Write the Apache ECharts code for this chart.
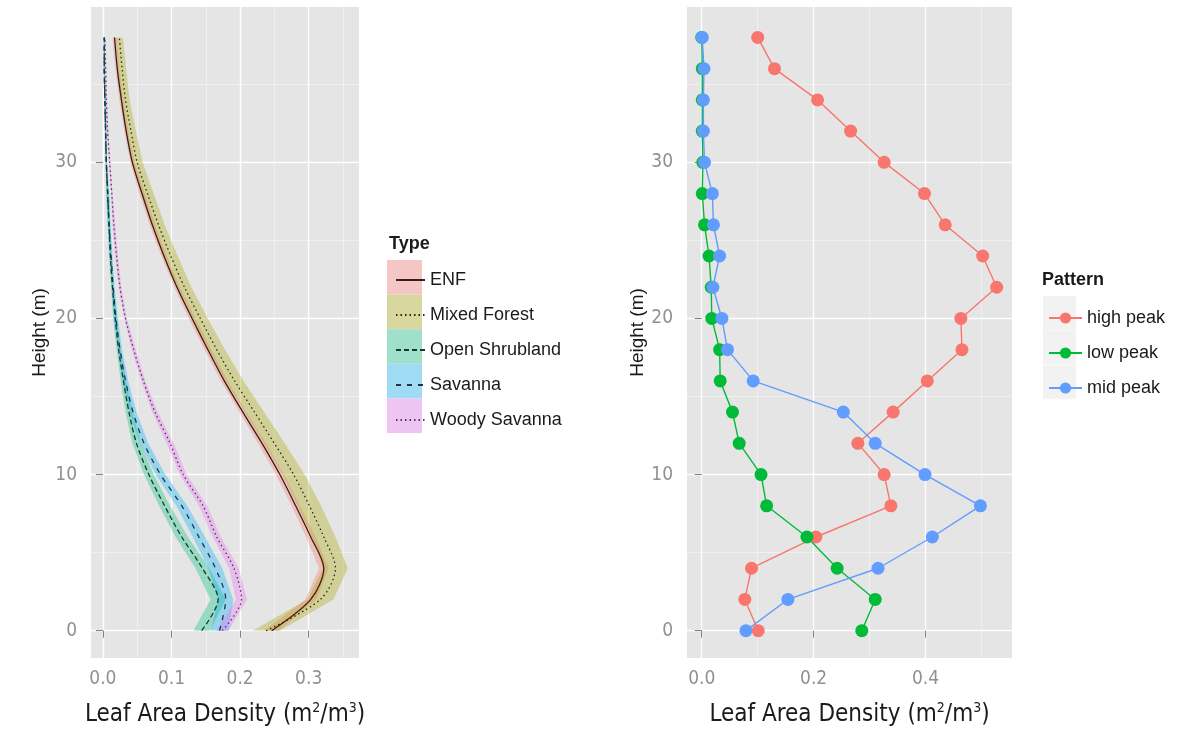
<!DOCTYPE html>
<html>
<head>
<meta charset="utf-8">
<script src="https://cdn.jsdelivr.net/npm/echarts@6/dist/echarts.min.js"></script>
<style>
  html, body { margin: 0; padding: 0; background: #fff; }
  #chart { width: 1178px; height: 734px; }
</style>
</head>
<body>
<div id="chart"></div>
<script>
// heights (m) shared by both panels
const heights = [0, 2, 4, 6, 8, 10, 12, 14, 16, 18, 20, 22, 24, 26, 28, 30, 32, 34, 36, 38];

// left panel: smoothed leaf area density per land cover type, with ribbon half width
const types = ["ENF", "Mixed Forest", "Open Shrubland", "Savanna", "Woody Savanna"];
const enf = [0.246, 0.303, 0.322, 0.303, 0.281, 0.258, 0.232, 0.204, 0.177, 0.153, 0.130, 0.108, 0.089, 0.072, 0.057, 0.043, 0.034, 0.027, 0.021, 0.017];
const mixedForest = [0.238, 0.317, 0.339, 0.322, 0.301, 0.278, 0.250, 0.221, 0.192, 0.166, 0.142, 0.119, 0.099, 0.081, 0.065, 0.050, 0.041, 0.033, 0.028, 0.024];
const openShrubland = [0.144, 0.168, 0.145, 0.115, 0.090, 0.067, 0.049, 0.038, 0.030, 0.023, 0.018, 0.014, 0.011, 0.009, 0.007, 0.005, 0.004, 0.003, 0.002, 0.002];
const savanna = [0.170, 0.179, 0.164, 0.140, 0.115, 0.084, 0.060, 0.044, 0.033, 0.025, 0.019, 0.015, 0.012, 0.009, 0.007, 0.005, 0.004, 0.003, 0.002, 0.002];
const woodySavanna = [0.174, 0.202, 0.191, 0.166, 0.146, 0.117, 0.098, 0.076, 0.059, 0.045, 0.033, 0.025, 0.020, 0.016, 0.013, 0.010, 0.007, 0.005, 0.004, 0.003];
const enfSe = [0.010, 0.008, 0.007, 0.007, 0.006, 0.006, 0.006, 0.005, 0.005, 0.005, 0.005, 0.004, 0.004, 0.004, 0.004, 0.003, 0.003, 0.003, 0.003, 0.003];
const mixedForestSe = [0.020, 0.019, 0.018, 0.017, 0.017, 0.016, 0.015, 0.014, 0.013, 0.012, 0.011, 0.010, 0.010, 0.009, 0.009, 0.008, 0.007, 0.006, 0.006, 0.005];
const openShrublandSe = [0.012, 0.011, 0.010, 0.009, 0.008, 0.007, 0.006, 0.005, 0.004, 0.003, 0.003, 0.002, 0.002, 0.002, 0.002, 0.001, 0.001, 0.001, 0.001, 0.001];
const savannaSe = [0.013, 0.011, 0.010, 0.009, 0.008, 0.007, 0.006, 0.005, 0.004, 0.003, 0.003, 0.002, 0.002, 0.002, 0.002, 0.001, 0.001, 0.001, 0.001, 0.001];
const woodySavannaSe = [0.009, 0.008, 0.007, 0.006, 0.006, 0.005, 0.005, 0.004, 0.003, 0.003, 0.002, 0.002, 0.002, 0.002, 0.001, 0.001, 0.001, 0.001, 0.001, 0.001];

// right panel: profile patterns
const patterns = ["high peak", "low peak", "mid peak"];
const highPeak = [0.101, 0.077, 0.089, 0.204, 0.338, 0.326, 0.279, 0.342, 0.403, 0.465, 0.463, 0.527, 0.502, 0.435, 0.398, 0.326, 0.266, 0.207, 0.130, 0.100];
const lowPeak = [0.286, 0.310, 0.242, 0.188, 0.116, 0.106, 0.067, 0.055, 0.033, 0.032, 0.018, 0.017, 0.013, 0.005, 0.001, 0.002, 0.001, 0.001, 0.001, 0.000];
const midPeak = [0.079, 0.154, 0.315, 0.412, 0.498, 0.399, 0.310, 0.253, 0.092, 0.046, 0.036, 0.020, 0.032, 0.021, 0.019, 0.005, 0.003, 0.003, 0.004, 0.001];

// axis ticks
const yTicks = [0, 10, 20, 30];
const yMinor = [5, 15, 25, 35];
const leftXTicks = [0, 0.1, 0.2, 0.3];
const leftXMinor = [0.05, 0.15, 0.25, 0.35];
const rightXTicks = [0, 0.2, 0.4];
const rightXMinor = [0.1, 0.3, 0.5];

const narrow = '"Liberation Sans Narrow", "DejaVu Sans Condensed", sans-serif';
const sans = '"Liberation Sans", Arial, sans-serif';
const fills = ["#F8766D", "#A3A500", "#00BF7D", "#00B0F6", "#E76BF3"];
const lineColors = ["#3c1c16", "#2c2a0a", "#163a2c", "#1c3448", "#58305e"];
const dashes = ["solid", [1.5, 3], [5, 3], [5, 6], [1.5, 3]];
const patternColors = ["#F8766D", "#00BA38", "#619CFF"];

function rgba(hex, a) {
  const n = parseInt(hex.slice(1), 16);
  return `rgba(${n >> 16},${(n >> 8) & 255},${n & 255},${a})`;
}

const pairs = (vals) => vals.map((v, i) => [v, heights[i]]);

function majorX(idx, ticks, min, max) {
  return {
    type: "value", gridIndex: idx, min: min, max: max, position: "bottom",
    name: "Leaf Area Density (m{sup|2}/m{sup|3})",
    nameLocation: "middle", nameGap: 43,
    nameTextStyle: {
      fontFamily: narrow, fontSize: 24, color: "#1a1a1a",
      rich: { sup: { fontFamily: narrow, fontSize: 14, color: "#1a1a1a", padding: [0, 0, 14, 0] } },
    },
    axisLine: { show: false },
    axisTick: { show: true, length: 7, customValues: ticks, lineStyle: { color: "#7f7f7f", width: 1 } },
    axisLabel: { customValues: ticks, color: "#919191", fontFamily: narrow, fontSize: 19, margin: 12,
      formatter: (v) => v.toFixed(1) },
    splitLine: { show: true, lineStyle: { color: "#ffffff", width: 1.4 } },
  };
}
function minorX(idx, ticks, min, max) {
  return {
    type: "value", gridIndex: idx, min: min, max: max, position: "bottom",
    axisLine: { show: false }, axisLabel: { show: false },
    axisTick: { show: false, customValues: ticks },
    splitLine: { show: true, lineStyle: { color: "#f2f2f2", width: 0.8 } },
  };
}
function majorY(idx, gap) {
  return {
    type: "value", gridIndex: idx, min: -1.75, max: 39.95,
    name: "Height (m)", nameLocation: "middle", nameGap: gap, nameRotate: 90,
    nameTextStyle: { fontFamily: sans, fontSize: 19, color: "#1a1a1a" },
    axisLine: { show: false },
    axisTick: { show: true, length: 7, customValues: yTicks, lineStyle: { color: "#7f7f7f", width: 1 } },
    axisLabel: { customValues: yTicks, color: "#919191", fontFamily: narrow, fontSize: 19, margin: 14 },
    splitLine: { show: true, lineStyle: { color: "#ffffff", width: 1.4 } },
  };
}
function minorY(idx) {
  return {
    type: "value", gridIndex: idx, min: -1.75, max: 39.95,
    axisLine: { show: false }, axisLabel: { show: false },
    axisTick: { show: false, customValues: yMinor },
    splitLine: { show: true, lineStyle: { color: "#f2f2f2", width: 0.8 } },
  };
}

function ribbon(i, mean, se) {
  return {
    type: "custom", name: types[i] + " band", xAxisIndex: 0, yAxisIndex: 0,
    silent: true, clip: true, z: 1,
    data: [[mean[0], heights[0]]],
    renderItem: (params, api) => {
      const pts = [];
      heights.forEach((h, k) => pts.push(api.coord([mean[k] - se[k], h])));
      for (let k = heights.length - 1; k >= 0; k--) pts.push(api.coord([mean[k] + se[k], heights[k]]));
      return { type: "polygon", shape: { points: pts }, style: { fill: rgba(fills[i], 0.34) } };
    },
  };
}
function profile(i, mean) {
  return {
    type: "line", name: types[i], xAxisIndex: 0, yAxisIndex: 0, z: 3,
    data: pairs(mean), symbol: "none", smooth: 0.3,
    lineStyle: { color: lineColors[i], width: 1.3, type: dashes[i] },
    itemStyle: { color: lineColors[i] },
  };
}
function pattern(i, vals) {
  return {
    type: "line", name: patterns[i], xAxisIndex: 2, yAxisIndex: 2, z: 3,
    data: pairs(vals), symbol: "circle", symbolSize: 13, showSymbol: true,
    lineStyle: { color: patternColors[i], width: 1.4 },
    itemStyle: { color: patternColors[i] },
  };
}

const means = [enf, mixedForest, openShrubland, savanna, woodySavanna];
const ses = [enfSe, mixedForestSe, openShrublandSe, savannaSe, woodySavannaSe];

// legend key backgrounds
const keys = [];
types.forEach((t, i) => {
  keys.push({ type: "rect", left: 387, top: 260 + i * 34.6, shape: { width: 35, height: 34.6 }, style: { fill: "#f2f2f2" }, z: 0 });
  keys.push({ type: "rect", left: 387, top: 260 + i * 34.6, shape: { width: 35, height: 34.6 }, style: { fill: rgba(fills[i], 0.34) }, z: 0 });
});
patterns.forEach((p, i) => {
  keys.push({ type: "rect", left: 1043, top: 296 + i * 34.6, shape: { width: 33, height: 34 }, style: { fill: "#f2f2f2" }, z: 0 });
});

const chart = echarts.init(document.getElementById("chart"));
chart.setOption({
  backgroundColor: "#ffffff",
  animation: false,
  grid: [
    { left: 91, top: 7, width: 268, height: 651, show: true, backgroundColor: "#e5e5e5", borderWidth: 0 },
    { left: 687, top: 7, width: 325, height: 651, show: true, backgroundColor: "#e5e5e5", borderWidth: 0 },
  ],
  xAxis: [
    majorX(0, leftXTicks, -0.0173, 0.3733), minorX(0, leftXMinor, -0.0173, 0.3733),
    majorX(1, rightXTicks, -0.0263, 0.5544), minorX(1, rightXMinor, -0.0263, 0.5544),
  ],
  yAxis: [majorY(0, 42), minorY(0), majorY(1, 23), minorY(1)],
  legend: [
    {
      data: types, orient: "vertical", left: 390, top: 266, itemWidth: 29, itemHeight: 14, itemGap: 17,
      selectedMode: false, itemStyle: { opacity: 0 },
      textStyle: { fontFamily: sans, fontSize: 18, color: "#1a1a1a" },
    },
    {
      data: patterns, orient: "vertical", left: 1043, top: 304, itemWidth: 33, itemHeight: 14, itemGap: 17,
      selectedMode: false, textStyle: { fontFamily: sans, fontSize: 18, color: "#1a1a1a" },
    },
  ],
  graphic: keys.concat([
    { type: "text", left: 389, top: 235, style: { text: "Type", font: "bold 18px " + sans, fill: "#1a1a1a" } },
    { type: "text", left: 1042, top: 271, style: { text: "Pattern", font: "bold 18px " + sans, fill: "#1a1a1a" } },
  ]),
  series: [
    ...means.map((m, i) => ribbon(i, m, ses[i])),
    ...means.map((m, i) => profile(i, m)),
    ...[highPeak, lowPeak, midPeak].map((v, i) => pattern(i, v)),
  ],
});
</script>
</body>
</html>
